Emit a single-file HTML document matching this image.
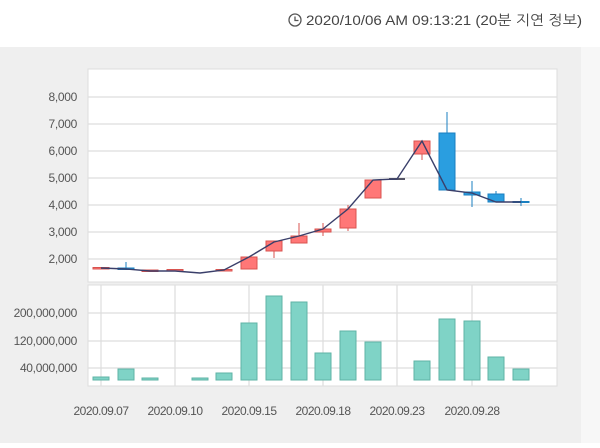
<!DOCTYPE html>
<html><head><meta charset="utf-8"><style>
body{margin:0;width:600px;height:443px;background:#fff;overflow:hidden;font-family:"Liberation Sans","NanumGothic",sans-serif}
</style></head><body>
<svg width="600" height="443" xmlns="http://www.w3.org/2000/svg" font-family="Liberation Sans, NanumGothic, sans-serif">
<rect x="0" y="47" width="581" height="396" fill="#efefef"/>
<rect x="581" y="47" width="19" height="396" fill="#f7f7f7"/>
<circle cx="295" cy="20" r="6" fill="none" stroke="#555" stroke-width="1.3"/>
<path d="M295 16.5V20.5H298.5" fill="none" stroke="#555" stroke-width="1.3"/>
<text x="306" y="25" font-size="14" fill="#444" textLength="276" lengthAdjust="spacingAndGlyphs">2020/10/06 AM 09:13:21 (20분 지연 정보)</text>
<rect x="88" y="69" width="469" height="213" fill="#fff" stroke="#ddd"/>
<rect x="88" y="285" width="469" height="101" fill="#fff" stroke="#ddd"/>
<g stroke="#ddd" stroke-width="1.2">
<line x1="88" x2="557" y1="97" y2="97"/><line x1="88" x2="557" y1="124" y2="124"/><line x1="88" x2="557" y1="151" y2="151"/><line x1="88" x2="557" y1="178" y2="178"/><line x1="88" x2="557" y1="205" y2="205"/><line x1="88" x2="557" y1="232" y2="232"/><line x1="88" x2="557" y1="259" y2="259"/>
<line x1="88" x2="557" y1="313" y2="313"/><line x1="88" x2="557" y1="341" y2="341"/><line x1="88" x2="557" y1="368" y2="368"/>
<line x1="101" x2="101" y1="285" y2="386"/><line x1="175" x2="175" y1="285" y2="386"/><line x1="249" x2="249" y1="285" y2="386"/><line x1="323" x2="323" y1="285" y2="386"/><line x1="397" x2="397" y1="285" y2="386"/><line x1="472" x2="472" y1="285" y2="386"/>
</g>
<g font-size="12" fill="#555" text-anchor="end" letter-spacing="-0.3">
<text x="77" y="101">8,000</text><text x="77" y="128">7,000</text><text x="77" y="155">6,000</text><text x="77" y="182">5,000</text><text x="77" y="209">4,000</text><text x="77" y="236">3,000</text><text x="77" y="263">2,000</text>
<text x="77" y="317">200,000,000</text><text x="77" y="345">120,000,000</text><text x="77" y="372">40,000,000</text>
</g>
<g font-size="12" fill="#555" text-anchor="middle" letter-spacing="-0.5">
<text x="101" y="415">2020.09.07</text><text x="175" y="415">2020.09.10</text><text x="249" y="415">2020.09.15</text><text x="323" y="415">2020.09.18</text><text x="397" y="415">2020.09.23</text><text x="472" y="415">2020.09.28</text>
</g>
<g fill="#7fd3c6" stroke="#5fb3a6">
<rect x="93" y="377" width="16" height="3"/><rect x="118" y="369" width="16" height="11"/><rect x="142" y="378" width="16" height="2"/><rect x="192" y="378" width="16" height="2"/><rect x="216" y="373" width="16" height="7"/><rect x="241" y="323" width="16" height="57"/><rect x="266" y="296" width="16" height="84"/><rect x="291" y="302" width="16" height="78"/><rect x="315" y="353" width="16" height="27"/><rect x="340" y="331" width="16" height="49"/><rect x="365" y="342" width="16" height="38"/><rect x="414" y="361" width="16" height="19"/><rect x="439" y="319" width="16" height="61"/><rect x="464" y="321" width="16" height="59"/><rect x="488" y="357" width="16" height="23"/><rect x="513" y="369" width="16" height="11"/>
</g>
<g stroke="#d9534f" fill="#f77">
<line x1="274" x2="274" y1="241" y2="258"/><line x1="299" x2="299" y1="223" y2="243"/><line x1="323" x2="323" y1="223" y2="236"/><line x1="348" x2="348" y1="205" y2="231"/><line x1="422" x2="422" y1="141" y2="160"/>
<rect x="93" y="267.5" width="16" height="1.5"/><rect x="142" y="270" width="16" height="1.5"/><rect x="167" y="269.5" width="16" height="1.5"/><rect x="216" y="269.5" width="16" height="1.5"/>
<rect x="241" y="257" width="16" height="12"/><rect x="266" y="241" width="16" height="10"/><rect x="291" y="236" width="16" height="7"/><rect x="315" y="229" width="16" height="3"/><rect x="340" y="209" width="16" height="19"/><rect x="365" y="180" width="16" height="18"/><rect x="414" y="141" width="16" height="13"/>
</g>
<rect x="389" y="178" width="16" height="2" fill="#556"/>
<g stroke="#1a7fc0" fill="#2a9ee0">
<line x1="126" x2="126" y1="262" y2="269"/><line x1="447" x2="447" y1="112" y2="133"/><line x1="472" x2="472" y1="181" y2="207"/><line x1="496" x2="496" y1="191" y2="202"/><line x1="521" x2="521" y1="198" y2="206"/>
<rect x="118" y="268" width="16" height="1.5"/><rect x="439" y="133" width="16" height="57"/><rect x="464" y="192" width="16" height="3"/><rect x="488" y="194" width="16" height="8"/><rect x="513" y="201.5" width="16" height="1"/>
</g>
<polyline fill="none" stroke="#3a3f6a" stroke-width="1.4" points="101,268 126,269 150,271 175,271 200,273 224,270 249,257 274,242 299,236 323,229 348,209 373,180 397,179 422,141 447,190 472,193 496,202 521,202"/>
</svg>
</body></html>
